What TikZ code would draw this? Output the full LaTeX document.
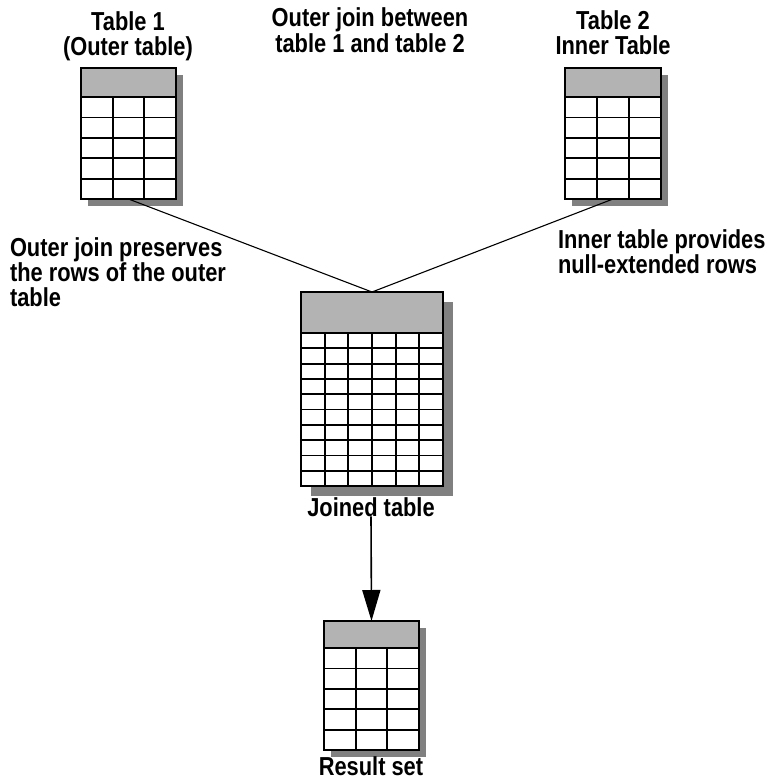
\documentclass[tikz,border=0pt]{standalone}
\usepackage{fontspec}
\setmainfont{Liberation Sans}[FakeStretch=0.84]
\usetikzlibrary{arrows.meta}

\definecolor{headfill}{HTML}{B3B3B3}
\definecolor{shadowfill}{HTML}{808080}

\tikzset{
  label/.style={font=\bfseries\fontsize{26}{25}\selectfont, inner sep=0pt, outer sep=0pt},
  tablebox/.style={draw, line width=2pt, inner sep=0pt, outer sep=0pt},
  gridline/.style={line width=1.8pt},
  joinline/.style={line width=1.1pt},
  flow/.style={line width=1.6pt, -{Triangle[length=31pt, width=18pt]}},
}

% \dbtable{name}{left}{top}{width}{header height}{rows}{row height}{columns}{shadow offset}
\newcommand\dbtable[9]{%
  \pgfmathsetmacro\tblH{#5+#6*#7}%
  \pgfmathtruncatemacro\tblR{#6-1}%
  \pgfmathtruncatemacro\tblC{#8-1}%
  \fill[shadowfill] ({#2+#9},{#3+#9}) rectangle ({#2+#4+#9},{#3+\tblH+#9});
  \node[tablebox, fill=white, minimum width=#4pt, minimum height=\tblH pt,
        anchor=north west] (#1) at (#2,#3) {};
  \fill[headfill] (#2,#3) rectangle ({#2+#4},{#3+#5});
  \foreach \i in {0,...,\tblR}
    \draw[gridline] (#2,{#3+#5+\i*#7}) -- ({#2+#4},{#3+#5+\i*#7});
  \foreach \j in {1,...,\tblC}
    \draw[gridline] ({#2+\j*#4/#8},{#3+#5}) -- ({#2+\j*#4/#8},{#3+\tblH});
  \draw[tablebox] (#1.north west) rectangle (#1.south east);
}

\begin{document}
\begin{tikzpicture}[x=1pt, y=-1pt]
  \useasboundingbox (0,0) rectangle (777,779);

  % tables
  \dbtable{outer}{81}{68}{95}{29}{5}{20.4}{3}{7}
  \dbtable{inner}{565}{68}{96}{29}{5}{20.4}{3}{7}
  \dbtable{joined}{301}{292}{142}{41}{10}{15.3}{6}{10}
  \dbtable{result}{324}{621}{95}{27}{5}{20.4}{3}{7}

  % titles and captions (base anchor = baseline of the last line)
  \node[label, align=center, anchor=base] (outertitle) at (128,55) {Table 1\\(Outer table)};
  \node[label, align=center, anchor=base] (jointitle) at (370,52) {Outer join between\\table 1 and table 2};
  \node[label, align=center, anchor=base] (innertitle) at (613,54) {Table 2\\Inner Table};
  \node[label, align=left, anchor=base west] (outernote) at (10,306)
    {Outer join preserves\\the rows of the outer\\table};
  \node[label, align=left, anchor=base west] (innernote) at (558,273)
    {Inner table provides\\null-extended rows};
  \node[label, anchor=base] (joinedlabel) at (371,516) {Joined table};
  \node[label, text depth=0pt, anchor=base] (resultlabel) at (371,775) {Result set};

  % connectors
  \draw[joinline] (outer.south) -- (joined.north);
  \draw[joinline] (inner.south) -- (joined.north);
  \draw[flow] (joinedlabel.south) -- (result.north);
\end{tikzpicture}
\end{document}
